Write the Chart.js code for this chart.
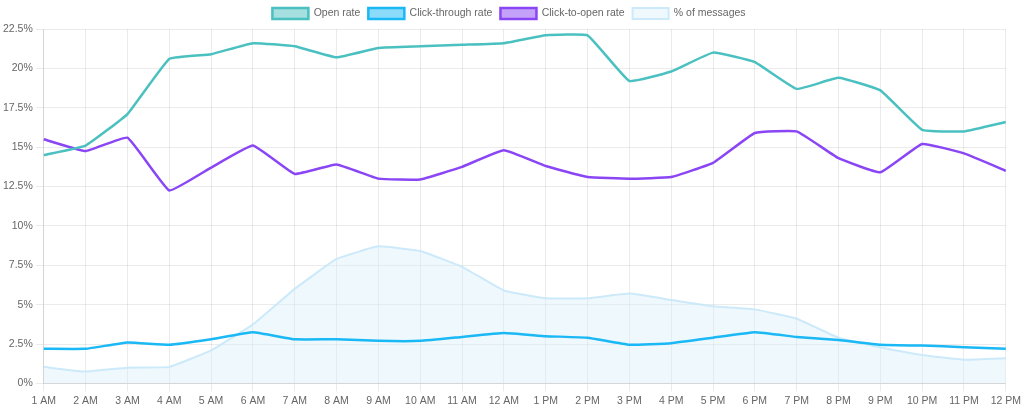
<!DOCTYPE html>
<html><head><meta charset="utf-8">
<script src="https://cdn.jsdelivr.net/npm/chart.js@4"></script>
<style>html,body{margin:0;padding:0;background:#fff}#w{width:1024px;height:410px}</style>
</head><body><div id="w"><canvas id="c"></canvas></div>
<script>
const labels=["1 AM","2 AM","3 AM","4 AM","5 AM","6 AM","7 AM","8 AM","9 AM","10 AM","11 AM","12 AM","1 PM","2 PM","3 PM","4 PM","5 PM","6 PM","7 PM","8 PM","9 PM","10 PM","11 PM","12 PM"];
const openRate=[14.5,15.1,17.1,20.6,20.9,21.6,21.4,20.7,21.3,21.4,21.5,21.6,22.1,22.1,19.2,19.8,21.0,20.4,18.7,19.4,18.6,16.1,16.0,16.6];
const ctr=[2.2,2.2,2.6,2.45,2.8,3.25,2.8,2.8,2.7,2.7,2.95,3.2,3.0,2.9,2.45,2.55,2.9,3.25,2.95,2.75,2.45,2.4,2.3,2.2];
const ctor=[15.5,14.75,15.6,12.25,13.7,15.1,13.3,13.9,13.0,12.95,13.75,14.8,13.8,13.1,13.0,13.1,14.0,15.9,16.0,14.3,13.4,15.2,14.6,13.5];
const pctMessages=[1.05,0.75,1.0,1.05,2.1,3.75,6.0,7.9,8.7,8.4,7.4,5.9,5.4,5.4,5.7,5.3,4.9,4.7,4.1,2.9,2.3,1.8,1.5,1.6];
Chart.defaults.font.family="'Liberation Sans', Arial, sans-serif";
Chart.defaults.font.size=10.5;
Chart.defaults.color="#666";
new Chart(document.getElementById('c'),{type:'line',
data:{labels,datasets:[
{label:'Open rate',data:openRate,borderColor:'#4bc0c0',backgroundColor:'rgba(75,192,192,0.5)',borderWidth:2.5,pointRadius:0,tension:0.1,fill:false},
{label:'Click-through rate',data:ctr,borderColor:'#1ab8f5',backgroundColor:'rgba(26,184,245,0.5)',borderWidth:2.5,pointRadius:0,tension:0.1,fill:false},
{label:'Click-to-open rate',data:ctor,borderColor:'#8a45f5',backgroundColor:'rgba(138,69,245,0.5)',borderWidth:2.5,pointRadius:0,tension:0.1,fill:false},
{label:'% of messages',data:pctMessages,borderColor:'rgba(200,232,250,0.9)',backgroundColor:'rgba(215,238,250,0.4)',borderWidth:2,pointRadius:0,tension:0.1,fill:true}
]},
options:{responsive:true,maintainAspectRatio:false,animation:false,
layout:{padding:{right:6,bottom:0,left:0}},
plugins:{legend:{labels:{boxWidth:36,boxHeight:11,padding:8}},tooltip:{enabled:false}},
scales:{x:{grid:{color:'rgba(0,0,0,0.08)'},ticks:{maxRotation:0,autoSkip:false}},
y:{min:0,max:22.5,grid:{color:'rgba(0,0,0,0.08)'},ticks:{stepSize:2.5,callback:v=>v+'%'}}}}});
</script></body></html>
